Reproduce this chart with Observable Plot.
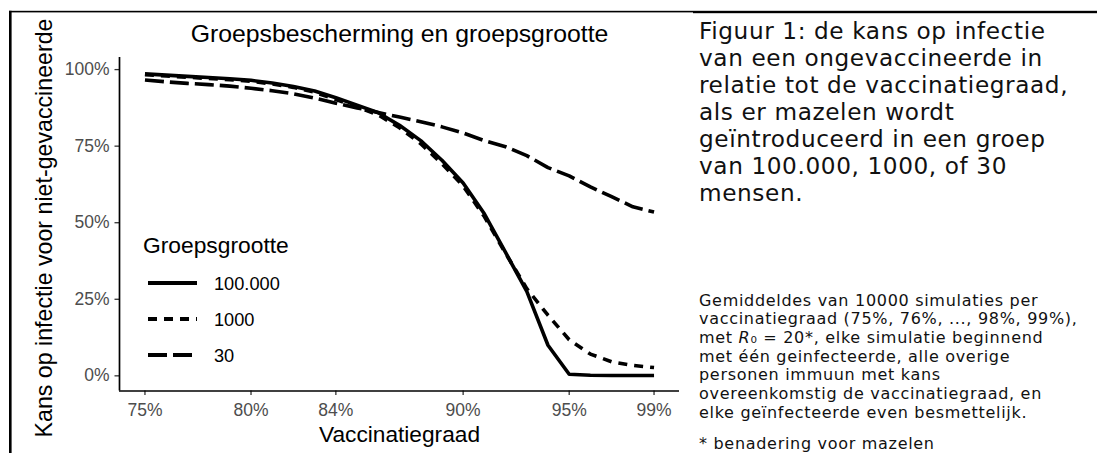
<!DOCTYPE html>
<html>
<head>
<meta charset="utf-8">
<script src="https://cdn.jsdelivr.net/npm/d3@7"></script>
<script src="https://cdn.jsdelivr.net/npm/@observablehq/plot@0.6"></script>
<style>
  html, body { margin: 0; padding: 0; background: #fff; }
  #wrap { position: relative; width: 1097px; height: 453px; overflow: hidden; background: #fff; }
  #chart { position: absolute; left: 0; top: 0; }
  #overlay { position: absolute; left: 0; top: 0; }
</style>
</head>
<body>
<div id="wrap">
  <div id="chart"></div>
  <svg id="overlay" width="1097" height="453"></svg>
</div>
<script>
// ---------- data ----------
const vaccinatiegraad = [75,76,77,78,79,80,81,82,83,84,85,86,87,88,89,90,91,92,93,94,95,96,97,98,99];
const kans100000 = [98.6,98.2,97.8,97.4,97.0,96.5,95.6,94.5,93.0,90.8,88.4,85.9,81.8,76.8,70.4,63.0,52.9,40.3,27.6,10.0,0.5,0.2,0.1,0.1,0.1];
const kans1000   = [98.3,97.9,97.5,97.1,96.7,96.2,95.3,94.2,92.6,90.2,87.8,85.2,81.0,75.8,69.3,62.0,52.0,40.0,28.5,19.8,11.8,7.1,4.6,3.4,2.7];
const kans30     = [96.6,96.0,95.5,95.1,94.6,93.9,93.1,92.1,90.7,89.0,87.5,86.0,84.5,83.0,81.3,79.3,76.8,74.8,71.9,68.0,65.3,61.7,58.5,55.2,53.5];
const groepen = ["100.000", "1000", "30"];
const xTicks = [75, 80, 84, 90, 95, 99];
const yTicks = [0, 25, 50, 75, 100];

const titel = "Groepsbescherming en groepsgrootte";
const xLabel = "Vaccinatiegraad";
const yLabel = "Kans op infectie voor niet-gevaccineerde";
const legendTitle = "Groepsgrootte";

const bijschrift = [
  "Figuur 1: de kans op infectie",
  "van een ongevaccineerde in",
  "relatie tot de vaccinatiegraad,",
  "als er mazelen wordt",
  "geïntroduceerd in een groep",
  "van 100.000, 1000, of 30",
  "mensen."
];
const toelichting = [
  "Gemiddeldes van 10000 simulaties per",
  "vaccinatiegraad (75%, 76%, ..., 98%, 99%),",
  "R0",
  "met één geinfecteerde, alle overige",
  "personen immuun met kans",
  "overeenkomstig de vaccinatiegraad, en",
  "elke geïnfecteerde even besmettelijk."
];
const voetnoot = "* benadering voor mazelen";

// ---------- build table ----------
const series = [kans100000, kans1000, kans30];
const rows = groepen.flatMap((g, i) => vaccinatiegraad.map((v, j) => ({groep: g, x: v, y: series[i][j]})));

const dashes = {"100.000": null, "1000": "9,7", "30": "19,6"};
const xDomain = [73.8, 100.2];
const yDomain = [-4.95, 103.95];
const LINEW = 3.6;

const plot = Plot.plot({
  width: 700,
  height: 453,
  marginLeft: 119,
  marginRight: 21,
  marginTop: 57,
  marginBottom: 62.5,
  style: {background: "transparent", fontFamily: "'Liberation Sans', Arial, sans-serif", overflow: "visible"},
  x: {domain: xDomain},
  y: {domain: yDomain},
  marks: [
    Plot.axisX({ticks: xTicks, tickFormat: d => d + "%", tickSize: 4.5, tickPadding: 8, stroke: "#333", strokeWidth: 1.3, fill: "#4d4d4d", fontSize: 17.5, label: null}),
    Plot.axisY({ticks: yTicks, tickFormat: d => d + "%", tickSize: 4.5, tickPadding: 5.5, stroke: "#333", strokeWidth: 1.3, fill: "#4d4d4d", fontSize: 17.5, label: null}),
    Plot.ruleX([xDomain[0]], {stroke: "black", strokeWidth: 1.7}),
    Plot.ruleY([yDomain[0]], {stroke: "black", strokeWidth: 1.7}),
    ...groepen.map(g => Plot.line(rows.filter(r => r.groep === g), {
      x: "x", y: "y", stroke: "black", strokeWidth: LINEW,
      strokeDasharray: dashes[g] || undefined, strokeLinejoin: "round", strokeLinecap: "butt"
    }))
  ]
});
document.getElementById("chart").appendChild(plot);

// ---------- overlay: frame, titles, legend, caption ----------
const svg = d3.select("#overlay");
const ARIAL = "'Liberation Sans', Arial, sans-serif";
const CAP = "'DejaVu Sans', 'Open Sans', sans-serif";

// document border
svg.append("rect").attr("x", 9).attr("y", 10.8).attr("width", 684).attr("height", 1.6).attr("fill", "#000");
svg.append("rect").attr("x", 693).attr("y", 10.8).attr("width", 404).attr("height", 2.4).attr("fill", "#000");
svg.append("rect").attr("x", 9).attr("y", 10.8).attr("width", 2.6).attr("height", 443).attr("fill", "#000");

// chart title
svg.append("text").attr("x", 399.5).attr("y", 42).attr("text-anchor", "middle")
  .attr("font-family", ARIAL).attr("font-size", 24.8).attr("fill", "#000").text(titel);
// x label
svg.append("text").attr("x", 399.5).attr("y", 442).attr("text-anchor", "middle")
  .attr("font-family", ARIAL).attr("font-size", 22.7).attr("fill", "#000").text(xLabel);
// y label
svg.append("text").attr("transform", "translate(51.5,228) rotate(-90)").attr("text-anchor", "middle")
  .attr("font-family", ARIAL).attr("font-size", 23.2).attr("fill", "#000").text(yLabel);

// legend
const lg = svg.append("g");
lg.append("text").attr("x", 143).attr("y", 252.5).attr("font-family", ARIAL).attr("font-size", 22.8).attr("fill", "#000").text(legendTitle);
const rowY = [283, 319, 355];
groepen.forEach((g, i) => {
  const l = lg.append("line").attr("x1", 148).attr("x2", 197).attr("y1", rowY[i]).attr("y2", rowY[i])
    .attr("stroke", "#000").attr("stroke-width", LINEW + 0.6);
  if (dashes[g]) l.attr("stroke-dasharray", dashes[g]);
  lg.append("text").attr("x", 214).attr("y", rowY[i] + 6.5).attr("font-family", ARIAL).attr("font-size", 18.2).attr("fill", "#000").text(g);
});

// caption text (right column)
bijschrift.forEach((t, i) => {
  svg.append("text").attr("x", 699).attr("y", 38.5 + i * 27.1)
    .attr("font-family", CAP).attr("font-size", 23.2).attr("letter-spacing", "0.6px").attr("fill", "#111").text(t);
});
toelichting.forEach((t, i) => {
  const tx = svg.append("text").attr("x", 699).attr("y", 305.5 + i * 18.7)
    .attr("font-family", CAP).attr("font-size", 16).attr("letter-spacing", "0.7px").attr("fill", "#111");
  if (t === "R0") {
    tx.append("tspan").text("met ");
    tx.append("tspan").attr("font-style", "italic").text("R");
    tx.append("tspan").text("\u2080 = 20*, elke simulatie beginnend");
  } else {
    tx.text(t);
  }
});
svg.append("text").attr("x", 699).attr("y", 449).attr("font-family", CAP).attr("font-size", 16)
  .attr("letter-spacing", "0.7px").attr("fill", "#111").text(voetnoot);
</script>
</body>
</html>
